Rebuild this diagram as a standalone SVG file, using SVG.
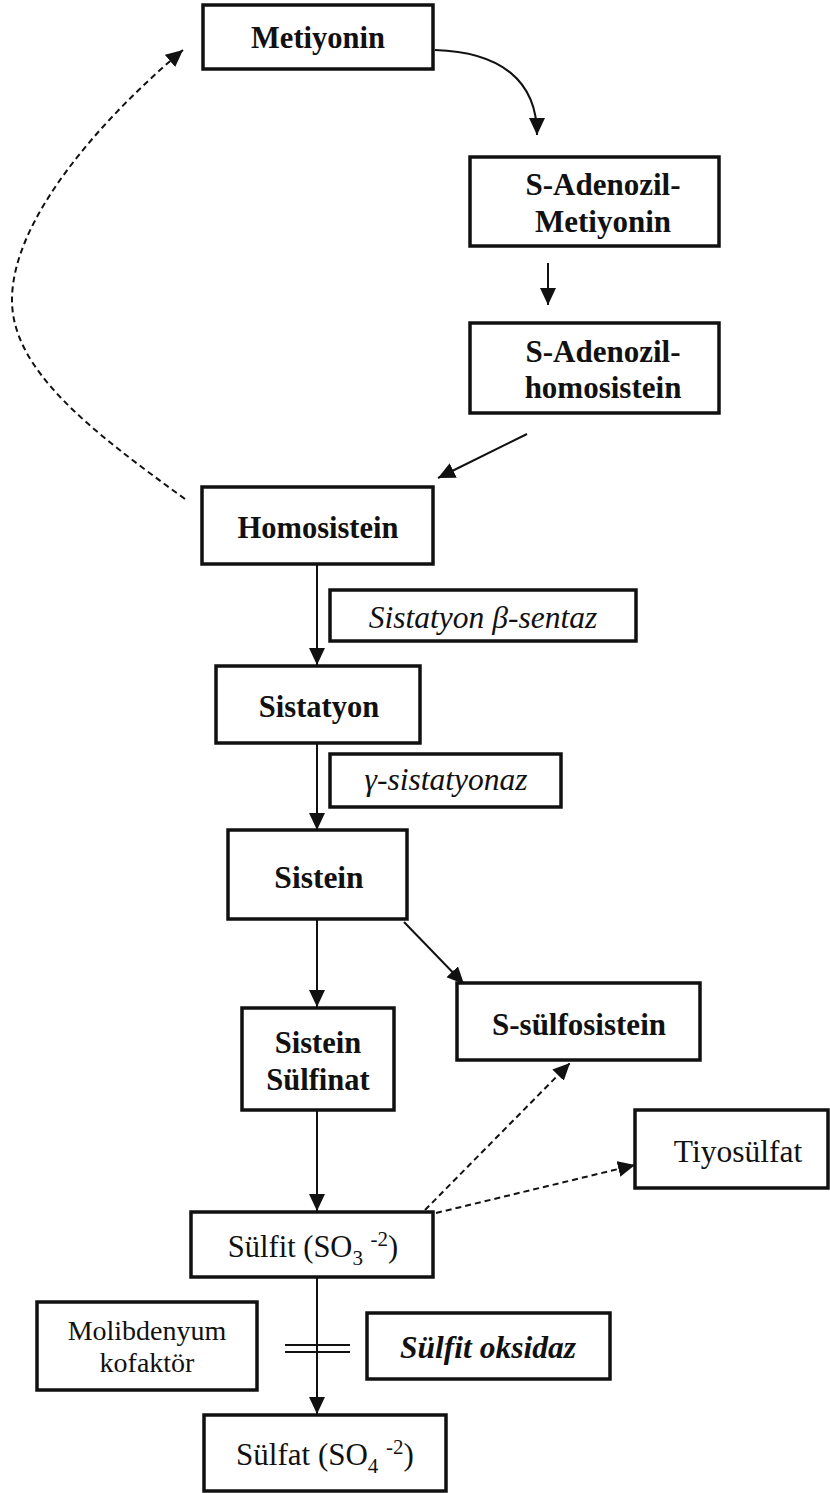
<svg xmlns="http://www.w3.org/2000/svg" width="830" height="1493" viewBox="0 0 830 1493">
<style>
.box{fill:#fff;stroke:#111;stroke-width:3.5}
.t{font-family:"Liberation Serif","Times New Roman",serif;fill:#111;text-anchor:middle}
.b{font-weight:bold}
.i{font-style:italic}
.c{fill:none;stroke:#111;stroke-width:2}
.d{fill:none;stroke:#111;stroke-width:2;stroke-dasharray:6 4}
</style>
<defs>
<marker id="ah" markerUnits="userSpaceOnUse" markerWidth="18" markerHeight="18" refX="17" refY="8" orient="auto">
<path d="M0,0 L17,8 L0,16 z" fill="#111"/>
</marker>
</defs>
<rect width="830" height="1493" fill="#fff"/>
<g id="connectors">
<path class="c" d="M435,50 C500,52 537,80 537,135" marker-end="url(#ah)"/>
<line class="c" x1="548" y1="263" x2="548" y2="305" marker-end="url(#ah)"/>
<line class="c" x1="527" y1="434" x2="438" y2="478" marker-end="url(#ah)"/>
<path class="d" d="M185,499 C90,430 12,370 12,300 C12,220 100,120 183,50" marker-end="url(#ah)"/>
<line class="c" x1="317" y1="565" x2="317" y2="665" marker-end="url(#ah)"/>
<line class="c" x1="317" y1="743" x2="317" y2="830" marker-end="url(#ah)"/>
<line class="c" x1="317" y1="920" x2="317" y2="1007" marker-end="url(#ah)"/>
<line class="c" x1="404" y1="922" x2="464" y2="984" marker-end="url(#ah)"/>
<line class="c" x1="317" y1="1110" x2="317" y2="1211" marker-end="url(#ah)"/>
<line class="d" x1="425" y1="1210" x2="570" y2="1063" marker-end="url(#ah)"/>
<line class="d" x1="436" y1="1213" x2="635" y2="1165" marker-end="url(#ah)"/>
<line class="c" x1="317" y1="1277" x2="317" y2="1414" marker-end="url(#ah)"/>
<line class="c" x1="285" y1="1345" x2="350" y2="1345"/>
<line class="c" x1="285" y1="1352" x2="350" y2="1352"/>
</g>
<g id="metiyonin"><rect class="box" x="203" y="5" width="230" height="64"/><text class="t b" x="318" y="48" font-size="30.5">Metiyonin</text></g>
<g id="sam"><rect class="box" x="470" y="157" width="249" height="89"/><text class="t b" x="603" y="195" font-size="31">S-Adenozil-</text><text class="t b" x="603" y="232" font-size="31">Metiyonin</text></g>
<g id="sah"><rect class="box" x="470" y="323" width="249" height="90"/><text class="t b" x="603" y="362" font-size="31">S-Adenozil-</text><text class="t b" x="603" y="398" font-size="31">homosistein</text></g>
<g id="homosistein"><rect class="box" x="202" y="487" width="231" height="77"/><text class="t b" x="318" y="538" font-size="30.5">Homosistein</text></g>
<g id="cbs"><rect class="box" x="330" y="590" width="306" height="51"/><text class="t i" x="483" y="628" font-size="31.5">Sistatyon β-sentaz</text></g>
<g id="sistatyon"><rect class="box" x="216" y="666" width="204" height="77"/><text class="t b" x="319" y="717" font-size="30.5">Sistatyon</text></g>
<g id="cgl"><rect class="box" x="330" y="754" width="231" height="53"/><text class="t i" x="446" y="790" font-size="31.5">γ-sistatyonaz</text></g>
<g id="sistein"><rect class="box" x="228" y="830" width="179" height="89"/><text class="t b" x="319" y="888" font-size="31.5">Sistein</text></g>
<g id="sistein-sulfinat"><rect class="box" x="242" y="1008" width="152" height="102"/><text class="t b" x="318" y="1053" font-size="30.5">Sistein</text><text class="t b" x="318" y="1090" font-size="30.5">Sülfinat</text></g>
<g id="s-sulfosistein"><rect class="box" x="457" y="983" width="243" height="77"/><text class="t b" x="579" y="1035" font-size="31">S-sülfosistein</text></g>
<g id="tiyosulfat"><rect class="box" x="635" y="1110" width="193" height="78"/><text class="t" x="738" y="1162" font-size="31.5">Tiyosülfat</text></g>
<g id="sulfit"><rect class="box" x="191" y="1212" width="242" height="65"/><text class="t" x="313" y="1257" font-size="30.5">Sülfit (SO<tspan font-size="21" dy="8">3</tspan><tspan dy="-8"> </tspan><tspan font-size="21" dy="-11">-2</tspan><tspan dy="11">)</tspan></text></g>
<g id="molibdenyum"><rect class="box" x="37" y="1302" width="220" height="88"/><text class="t" x="147" y="1340" font-size="28">Molibdenyum</text><text class="t" x="147" y="1372" font-size="28">kofaktör</text></g>
<g id="sulfit-oksidaz"><rect class="box" x="367" y="1313" width="243" height="66"/><text class="t b i" x="488" y="1358" font-size="31.5">Sülfit oksidaz</text></g>
<g id="sulfat"><rect class="box" x="204" y="1415" width="242" height="76"/><text class="t" x="325" y="1465" font-size="31">Sülfat (SO<tspan font-size="21" dy="8">4</tspan><tspan dy="-8"> </tspan><tspan font-size="21" dy="-11">-2</tspan><tspan dy="11">)</tspan></text></g>
</svg>
